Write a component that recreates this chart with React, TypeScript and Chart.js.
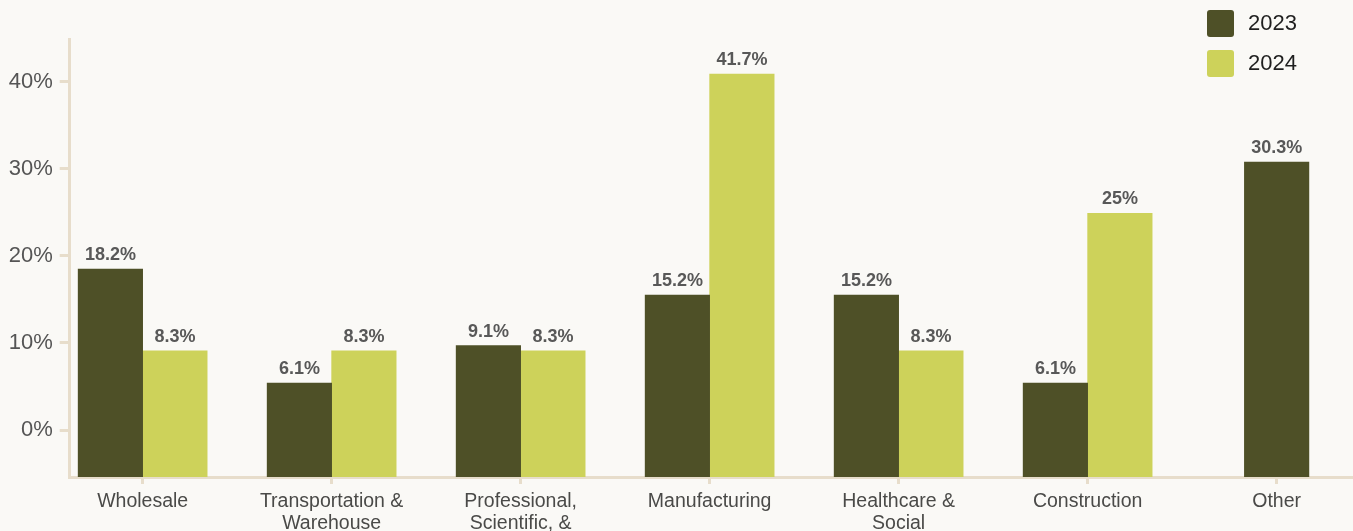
import React, { useEffect, useRef } from "react";
import { Chart, registerables } from "chart.js";

Chart.register(...registerables);

// ---- data ----
const CATEGORIES: string[][] = [
  ["Wholesale"],
  ["Transportation &", "Warehouse"],
  ["Professional,", "Scientific, &"],
  ["Manufacturing"],
  ["Healthcare &", "Social"],
  ["Construction"],
  ["Other"],
];
const SERIES_NAMES = ["2023", "2024"];
// bar heights
const VALUES_2023: (number | null)[] = [18.5, 5.4, 9.7, 15.5, 15.5, 5.4, 30.8];
const VALUES_2024: (number | null)[] = [9.1, 9.1, 9.1, 40.9, 9.1, 24.9, null];
// printed value labels
const LABELS_2023 = ["18.2%", "6.1%", "9.1%", "15.2%", "15.2%", "6.1%", "30.3%"];
const LABELS_2024 = ["8.3%", "8.3%", "8.3%", "41.7%", "8.3%", "25%", ""];
const Y_TICKS = [0, 10, 20, 30, 40];
const Y_MIN = -5.4;
const Y_MAX = 44.9;
const X_MIN = -0.386;
const X_MAX = 6.404;

// ---- style ----
const BG = "#FAF9F6";
const AXIS = "#E7DDCB";
const DARK = "#4E5027";
const LIGHT = "#CDD25A";
const FONT = "'Liberation Sans', Arial, sans-serif";

const bgPlugin = {
  id: "bgFill",
  beforeDraw(chart: any) {
    const ctx = chart.ctx;
    ctx.save();
    ctx.fillStyle = BG;
    ctx.fillRect(0, 0, chart.width, chart.height);
    ctx.restore();
  },
};

const valueLabelPlugin = {
  id: "valueLabels",
  afterDatasetsDraw(chart: any) {
    const ctx = chart.ctx;
    const allLabels = [LABELS_2023, LABELS_2024];
    ctx.save();
    ctx.font = `bold 18px ${FONT}`;
    ctx.fillStyle = "#585858";
    ctx.textAlign = "center";
    ctx.textBaseline = "alphabetic";
    chart.data.datasets.forEach((ds: any, di: number) => {
      const meta = chart.getDatasetMeta(di);
      meta.data.forEach((el: any, i: number) => {
        const v = ds.data[i];
        if (!v || v.y === null || v.y === undefined) return;
        const txt = allLabels[di][i];
        if (!txt) return;
        ctx.fillText(txt, el.x, el.y - 9);
      });
    });
    ctx.restore();
  },
};

const legendPlugin = {
  id: "cornerLegend",
  afterDraw(chart: any) {
    const ctx = chart.ctx;
    ctx.save();
    chart.data.datasets.forEach((ds: any, i: number) => {
      const x = 1207;
      const y = 10 + i * 40;
      ctx.fillStyle = ds.backgroundColor;
      ctx.beginPath();
      if ((ctx as any).roundRect) (ctx as any).roundRect(x, y, 27, 27, 3);
      else ctx.rect(x, y, 27, 27);
      ctx.fill();
      ctx.fillStyle = "#1F1F1F";
      ctx.font = `22px ${FONT}`;
      ctx.textAlign = "left";
      ctx.textBaseline = "middle";
      ctx.fillText(ds.label, 1248, y + 14);
    });
    ctx.restore();
  },
};

export default function App() {
  const canvasRef = useRef<HTMLCanvasElement | null>(null);

  useEffect(() => {
    document.body.style.margin = "0";
    document.body.style.background = BG;
    document.body.style.overflow = "hidden";
    const canvas = canvasRef.current;
    if (!canvas) return;

    const toPoints = (vals: (number | null)[]) => vals.map((y, x) => ({ x, y }));

    const chart = new Chart(canvas, {
      type: "bar",
      data: {
        datasets: [
          {
            label: SERIES_NAMES[0],
            data: toPoints(VALUES_2023) as any,
            backgroundColor: DARK,
            base: Y_MIN,
            barThickness: 64.5,
            skipNull: true,
          } as any,
          {
            label: SERIES_NAMES[1],
            data: toPoints(VALUES_2024) as any,
            backgroundColor: LIGHT,
            base: Y_MIN,
            barThickness: 64.5,
            skipNull: true,
          } as any,
        ],
      },
      options: {
        responsive: false,
        animation: false,
        devicePixelRatio: 1,
        layout: { padding: { top: 39.3, left: 0, right: 0, bottom: 0 } },
        plugins: {
          legend: { display: false },
          tooltip: { enabled: false },
        },
        scales: {
          x: {
            type: "linear",
            min: X_MIN,
            max: X_MAX,
            offset: false,
            z: 1,
            afterBuildTicks: (s: any) => {
              s.ticks = CATEGORIES.map((_, i) => ({ value: i }));
            },
            afterFit: (s: any) => {
              s.height = 54;
            },
            ticks: {
              autoSkip: false,
              maxRotation: 0,
              minRotation: 0,
              padding: 7,
              color: "#4A4A48",
              font: { family: FONT, size: 19.5, lineHeight: "22px" } as any,
              callback: (v: any) => CATEGORIES[Math.round(Number(v))] || "",
            },
            grid: {
              offset: false,
              drawOnChartArea: false,
              drawTicks: true,
              tickLength: 7,
              color: AXIS,
              lineWidth: 3,
            },
            border: { display: true, color: AXIS, width: 3 },
          } as any,
          y: {
            type: "linear",
            min: Y_MIN,
            max: Y_MAX,
            afterBuildTicks: (s: any) => {
              s.ticks = Y_TICKS.map((v) => ({ value: v }));
            },
            afterFit: (s: any) => {
              s.width = 69.7;
            },
            ticks: {
              padding: 7,
              color: "#555555",
              font: { family: FONT, size: 22 },
              callback: (v: any) => `${v}%`,
            },
            grid: {
              drawOnChartArea: false,
              drawTicks: true,
              tickLength: 10,
              color: AXIS,
              lineWidth: 3,
            },
            border: { display: true, color: AXIS, width: 3 },
          } as any,
        },
      },
      plugins: [bgPlugin, valueLabelPlugin, legendPlugin],
    });

    return () => chart.destroy();
  }, []);

  return (
    <div style={{ width: 1353, height: 531, background: BG }}>
      <canvas
        ref={canvasRef}
        width={1353}
        height={531}
        style={{ display: "block", width: 1353, height: 531 }}
      />
    </div>
  );
}
